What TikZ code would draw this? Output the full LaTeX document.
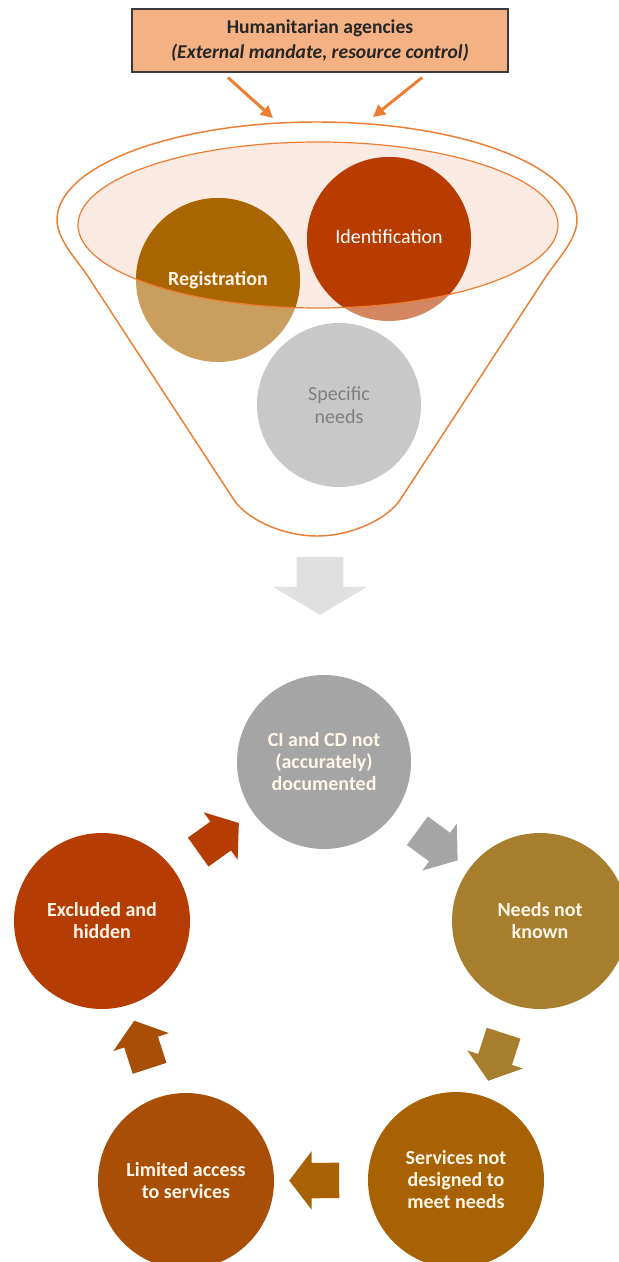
\documentclass[tikz,border=0pt]{standalone}
\usepackage{fontspec}
\setmainfont{Carlito}
\usetikzlibrary{positioning, calc, arrows.meta, shapes.arrows}
\definecolor{Funnel}{HTML}{ED7D31}
\definecolor{BoxFill}{HTML}{F4B183}
\definecolor{BoxLine}{HTML}{3A3A3A}
\definecolor{Ink}{HTML}{262626}
\definecolor{Blush}{HTML}{FBEAE2}
\definecolor{Regis}{HTML}{A96500}
\definecolor{Ident}{HTML}{B83C00}
\definecolor{Spec}{HTML}{C8C8C8}
\definecolor{SpecText}{HTML}{7F7F7F}
\definecolor{Pale}{HTML}{E0E0E0}
\definecolor{Stone}{HTML}{A5A5A5}
\definecolor{Excl}{HTML}{B53C02}
\definecolor{Needs}{HTML}{A77E2E}
\definecolor{Serv}{HTML}{A86203}
\definecolor{Limit}{HTML}{A84E06}
\definecolor{Cream}{HTML}{FFF6E8}
\tikzset{
    headbox/.style={rectangle, draw=BoxLine, line width=0.9pt, fill=BoxFill, minimum width=282pt, minimum height=47.25pt, align=center, text=Ink, font=\fontsize{14.7}{19}\selectfont\bfseries},
    feed/.style={-{Triangle[length=9pt, width=9pt]}, line width=2.2pt, color=Funnel},
    funline/.style={draw=Funnel, line width=1.1pt},
    funlabel/.style={circle, minimum size=123pt, inner sep=0pt, align=center, font=\fontsize{15}{17}\selectfont},
    cyclenode/.style={circle, minimum size=132pt, inner sep=0pt, align=center, text=Cream, font=\fontsize{15}{16.5}\selectfont\bfseries},
    blockarrow/.style={single arrow, inner xsep=0pt, inner ysep=13.1pt, minimum height=37.5pt, single arrow head extend=8.6pt, single arrow tip angle=105, sloped, allow upside down},
}

\begin{document}
\begin{tikzpicture}[x=0.75pt, y=-0.75pt]
    \useasboundingbox (0,0) rectangle (618,1262);

    % --- 1. AGENCIES ---
    \node[headbox] (hum) at (320,40.5) {Humanitarian agencies\\\textit{(External mandate, resource control)}};

    \coordinate (inL) at (273,118);
    \coordinate (inR) at (373,117);
    \draw[feed] ([xshift=-69pt, yshift=-3.75pt]hum.south) -- (inL);
    \draw[feed] ([xshift=76.5pt, yshift=-3.75pt]hum.south) -- (inR);

    % --- 2. FUNNEL ---
    \draw[funline] (57,220) arc[start angle=180, end angle=360, x radius=260, y radius=98]
        .. controls (577,240) and (556,261) .. (545,278) -- (400,500)
        .. controls (389,517) and (354,536) .. (317,536)
        .. controls (280,536) and (245,517) .. (234,500) -- (89,278)
        .. controls (78,261) and (57,240) .. (57,220) -- cycle;

    % Ellisse interna
    \fill[Blush] (318,225) ellipse[x radius=240, y radius=83];

    \coordinate (regc) at (218,280);
    \coordinate (idc) at (389,239);
    \coordinate (specc) at (339,405);

    % Cerchi (parte esterna chiara)
    \fill[Regis!63!white] (regc) circle[radius=82];
    \fill[Ident!62!white] (idc) circle[radius=82];
    \fill[Spec] (specc) circle[radius=82];

    % Cerchi (parte interna piena)
    \begin{scope}
        \clip (318,225) ellipse[x radius=240, y radius=83];
        \fill[Regis] (regc) circle[radius=82];
        \fill[Ident] (idc) circle[radius=82];
    \end{scope}
    \draw[funline, line width=0.9pt] (318,225) ellipse[x radius=240, y radius=83];

    \node[funlabel, text=Cream, font=\fontsize{15}{17}\selectfont\bfseries] (reg) at (regc) {Registration};
    \node[funlabel, text=white] (ident) at ([yshift=1.5pt]idc) {Identification};
    \node[funlabel, text=SpecText] (spec) at (specc) {Specific\\needs};

    % --- 3. CYCLE ---
    \node[single arrow, fill=Pale, rotate=-90, inner xsep=0pt, inner ysep=17.25pt, minimum height=43.5pt,
          single arrow head extend=17.6pt, single arrow tip angle=118] (down) at (320,579) {};

    \node[cyclenode, fill=Stone, minimum size=130.5pt] (ci) at (324,762) {CI and CD not\\(accurately)\\documented};
    \node[cyclenode, fill=Needs] (needs) at (540,921) {Needs not\\known};
    \node[cyclenode, fill=Serv] (serv) at (456,1180) {Services not\\designed to\\meet needs};
    \node[cyclenode, fill=Limit] (lim) at (186,1181) {Limited access\\to services};
    \node[cyclenode, fill=Excl] (excl) at (102,921) {Excluded and\\hidden};

    \path (excl.center) -- (ci.center) node[blockarrow, fill=Excl, midway] (a1) {};
    \path (ci.center) -- (needs.center) node[blockarrow, fill=Stone, midway] (a2) {};
    \path (needs.center) -- (serv.center) node[blockarrow, fill=Needs, midway] (a3) {};
    \path (serv.center) -- (lim.center) node[blockarrow, fill=Serv, midway] (a4) {};
    \path (lim.center) -- (excl.center) node[blockarrow, fill=Limit, midway] (a5) {};

\end{tikzpicture}
\end{document}
